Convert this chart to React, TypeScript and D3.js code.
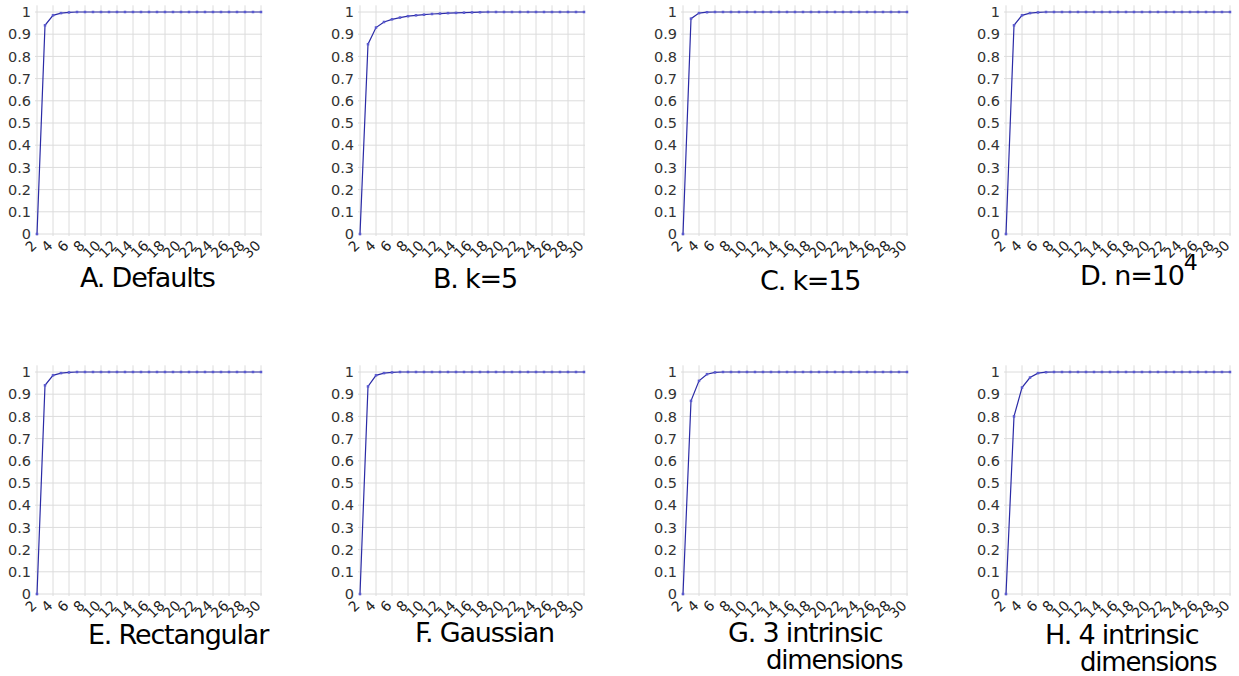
import React, { useEffect, useRef } from "react";
import * as d3 from "d3";

const ks = d3.range(2, 31);
const xTicks = d3.range(2, 31, 2);
const yTicks = d3.range(0, 11).map((i) => i / 10);

const titles = ["A. Defaults", "B. k=5", "C. k=15", "D. n=10", "E. Rectangular", "F. Gaussian", "G. 3 intrinsic", "H. 4 intrinsic"];
const subTitles = ["", "", "", "", "", "", "dimensions", "dimensions"];
const superscripts = ["", "", "", "4", "", "", "", ""];

// values for k = 2..7 (or more), the rest stay at 1
const headA = [0, 0.94, 0.985, 0.995, 0.998];
const headB = [0, 0.855, 0.93, 0.955, 0.967, 0.975, 0.981, 0.985, 0.988, 0.991, 0.993, 0.995, 0.996, 0.997, 0.998, 0.999];
const headC = [0, 0.97, 0.995, 0.999];
const headD = [0, 0.94, 0.985, 0.995, 0.998];
const headE = [0, 0.94, 0.985, 0.995, 0.998];
const headF = [0, 0.935, 0.985, 0.995, 0.998];
const headG = [0, 0.87, 0.96, 0.99, 0.998];
const headH = [0, 0.8, 0.93, 0.975, 0.995, 0.999];

const heads = [headA, headB, headC, headD, headE, headF, headG, headH];
const series = heads.map((h) => ks.map((k, i) => (i < h.length ? h[i] : 1)));

// title placement relative to each panel's x origin
const titleDx = [43, 73, 77, 74, 51, 55, 45, 39];
const subDx = [0, 0, 0, 0, 0, 0, 83, 74];
const titleY = [287, 288, 290, 285, 644, 642, 642, 644];
const subY = [0, 0, 0, 0, 0, 0, 669, 671];

const App = () => {
  const svgRef = useRef<SVGSVGElement>(null);

  useEffect(() => {
    const svg = d3.select(svgRef.current);
    svg.selectAll("*").remove();

    series.forEach((vals, p) => {
      const col = p % 4;
      const row = Math.floor(p / 4);
      const x0 = 37 + 323 * col;
      const yOff = 360 * row;

      const x = d3.scaleLinear().domain([2, 30]).range([x0, x0 + 224]);
      const y = d3.scaleLinear().domain([0, 1]).range([234 + yOff, 12 + yOff]);

      const g = svg.append("g");

      // grid
      g.selectAll("line.h")
        .data(yTicks)
        .enter()
        .append("line")
        .attr("x1", x(2) - 2)
        .attr("x2", x(30) + 1)
        .attr("y1", (d) => y(d))
        .attr("y2", (d) => y(d))
        .attr("stroke", "#dcdcdc")
        .attr("stroke-width", 1);

      g.selectAll("line.v")
        .data(xTicks)
        .enter()
        .append("line")
        .attr("x1", (d) => x(d))
        .attr("x2", (d) => x(d))
        .attr("y1", y(1.03))
        .attr("y2", y(0) + 2)
        .attr("stroke", "#dcdcdc")
        .attr("stroke-width", 1);

      // y labels
      g.selectAll("text.y")
        .data(yTicks)
        .enter()
        .append("text")
        .attr("x", x(2) - 6)
        .attr("y", (d) => y(d))
        .attr("dy", "0.36em")
        .attr("text-anchor", "end")
        .attr("font-family", "DejaVu Sans")
        .attr("font-size", 14.5)
        .attr("fill", "#333")
        .text((d) => (d === 0 ? "0" : d === 1 ? "1" : d3.format(".1f")(d)));

      // x labels, rotated
      g.selectAll("text.x")
        .data(xTicks)
        .enter()
        .append("text")
        .attr("transform", (d) => `translate(${x(d) - 3},${y(0) + 9}) rotate(-45)`)
        .attr("text-anchor", "end")
        .attr("dy", "0.35em")
        .attr("font-family", "DejaVu Sans")
        .attr("font-size", 14)
        .attr("fill", "#222")
        .text((d) => d);

      // line
      const pts = ks.map((k, i) => [k, vals[i]] as [number, number]);
      g.append("path")
        .attr("d", d3.line<[number, number]>().x((d) => x(d[0])).y((d) => y(d[1]))(pts))
        .attr("fill", "none")
        .attr("stroke", "#2b2ba6")
        .attr("stroke-width", 1.2);

      g.selectAll("rect.m")
        .data(pts)
        .enter()
        .append("rect")
        .attr("x", (d) => x(d[0]) - 1.25)
        .attr("y", (d) => y(d[1]) - 1.25)
        .attr("width", 2.5)
        .attr("height", 2.5)
        .attr("fill", "#5a5ad0");

      // title
      const t = svg
        .append("text")
        .attr("x", x0 + titleDx[p])
        .attr("y", titleY[p])
        .attr("font-family", "DejaVu Sans")
        .attr("font-size", 27)
        .attr("letter-spacing", -1.2)
        .attr("fill", "#000")
        .text(titles[p]);
      if (superscripts[p]) {
        t.append("tspan").attr("dy", -15).attr("font-size", 22).text(superscripts[p]);
      }
      if (subTitles[p]) {
        svg
          .append("text")
          .attr("x", x0 + subDx[p])
          .attr("y", subY[p])
          .attr("font-family", "DejaVu Sans")
          .attr("font-size", 26)
          .attr("letter-spacing", -1.2)
          .attr("fill", "#000")
          .text(subTitles[p]);
      }
    });
  }, []);

  return (
    <svg
      ref={svgRef}
      width={1239}
      height={676}
      style={{ position: "absolute", left: 0, top: 0, background: "#fff" }}
    ></svg>
  );
};

export default App;
